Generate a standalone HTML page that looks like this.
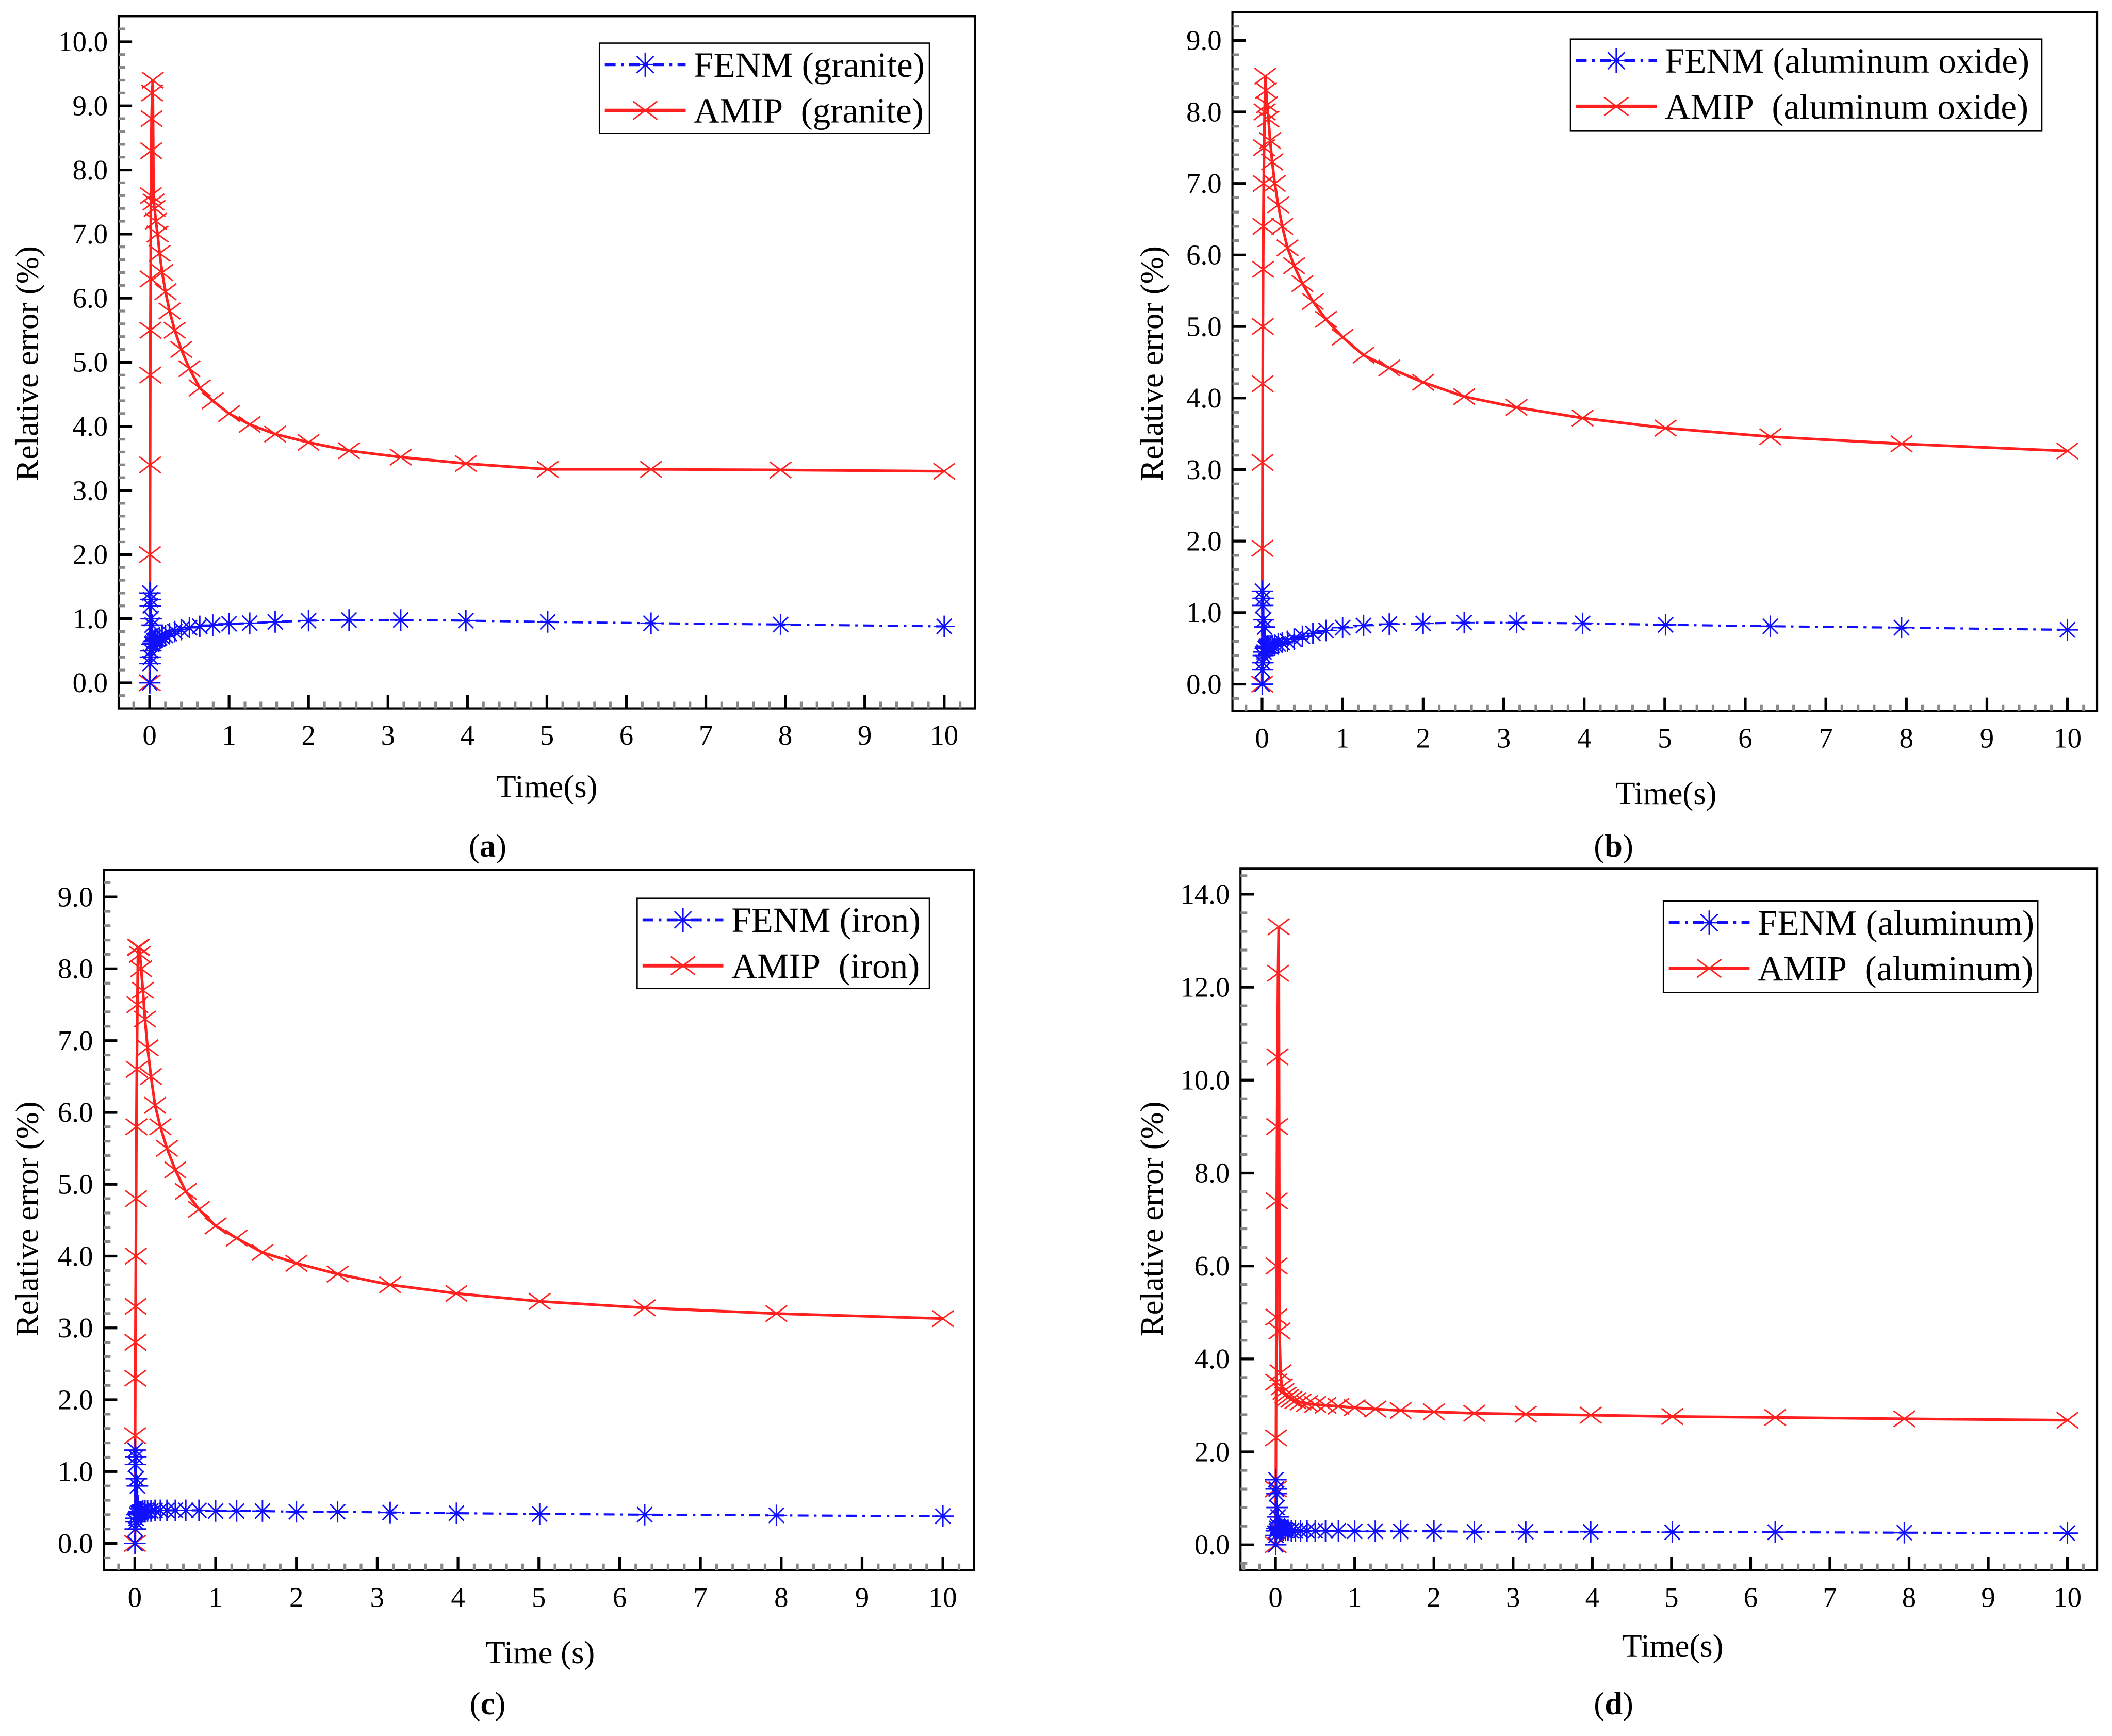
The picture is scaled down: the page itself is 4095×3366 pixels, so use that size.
<!DOCTYPE html>
<html><head><meta charset="utf-8"><style>
html,body{margin:0;padding:0;background:#fff;}
svg{display:block;}
text{font-family:"Liberation Serif",serif;fill:#000;}
</style></head><body>
<svg id="fig" width="4095" height="3366" viewBox="0 0 1568 1289" xmlns="http://www.w3.org/2000/svg"></svg>
<script>
// Shared time samples (s)
const times = [0.002,0.004,0.006,0.008,0.01,0.013,0.016,0.02,0.025,0.032,0.04,0.05,0.063,0.079,0.1,0.126,0.158,0.2,0.251,0.316,0.398,0.501,0.631,0.794,1,1.26,1.58,2,2.51,3.16,3.98,5.01,6.31,7.94,10];
const xTicks = [0,1,2,3,4,5,6,7,8,9,10];
// Panel (a) granite
const fenmA = [0,1.4,0.3,1.2,0.4,1.3,0.5,1.0,0.6,0.9,0.62,0.65,0.66,0.67,0.68,0.7,0.72,0.74,0.77,0.8,0.83,0.86,0.88,0.9,0.92,0.93,0.95,0.97,0.98,0.98,0.97,0.95,0.93,0.91,0.88];
const amipA = [0,2.0,3.4,4.8,5.5,6.3,7.6,8.3,8.8,9.2,9.4,7.5,7.4,7.2,7.0,6.7,6.4,6.1,5.8,5.5,5.2,4.9,4.6,4.4,4.2,4.03,3.88,3.75,3.62,3.52,3.42,3.33,3.33,3.32,3.3];
const yTicksA = [0,1,2,3,4,5,6,7,8,9,10];
// Panel (b) aluminum oxide
const fenmB = [0,1.3,0.2,1.1,0.3,1.2,0.4,0.9,0.45,0.8,0.5,0.52,0.53,0.53,0.53,0.54,0.55,0.56,0.58,0.6,0.63,0.67,0.71,0.75,0.79,0.82,0.84,0.85,0.86,0.86,0.85,0.83,0.81,0.79,0.76];
const amipB = [0,1.9,3.1,4.2,5.0,5.8,6.4,7.0,7.5,8.0,8.5,8.3,8.1,7.9,7.6,7.3,7.0,6.7,6.4,6.1,5.85,5.6,5.35,5.1,4.85,4.6,4.42,4.22,4.02,3.87,3.72,3.58,3.46,3.36,3.26];
const yTicksB = [0,1,2,3,4,5,6,7,8,9];
// Panel (c) iron
const fenmC = [0,1.3,0.2,1.1,0.3,1.2,0.35,0.9,0.4,0.8,0.42,0.43,0.44,0.44,0.45,0.45,0.45,0.45,0.46,0.46,0.46,0.46,0.46,0.46,0.45,0.45,0.45,0.44,0.44,0.43,0.42,0.41,0.4,0.39,0.38];
const amipC = [0,1.5,2.3,2.8,3.3,4.0,4.8,5.8,6.6,7.5,8.3,8.3,8.2,8.0,7.7,7.3,6.9,6.5,6.1,5.8,5.5,5.2,4.9,4.65,4.42,4.25,4.05,3.9,3.75,3.6,3.48,3.37,3.28,3.2,3.13];
const yTicksC = [0,1,2,3,4,5,6,7,8,9];
// Panel (d) aluminum
const fenmD = [0,1.4,0.2,1.2,0.3,1.1,0.35,0.8,0.4,0.6,0.38,0.36,0.34,0.33,0.32,0.31,0.31,0.3,0.3,0.3,0.3,0.3,0.3,0.3,0.29,0.29,0.29,0.29,0.28,0.28,0.28,0.27,0.27,0.26,0.25];
const amipD = [0,1.2,2.3,3.5,4.9,6.0,7.4,9.0,10.5,12.3,13.3,4.6,3.7,3.4,3.3,3.22,3.17,3.13,3.1,3.07,3.04,3.02,3.0,2.98,2.95,2.92,2.89,2.86,2.83,2.81,2.79,2.76,2.74,2.71,2.68];
const yTicksD = [0,2,4,6,8,10,12,14];

const NS='http://www.w3.org/2000/svg';
const fig=document.getElementById('fig');
function mk(tag,attrs,parent){const e=document.createElementNS(NS,tag);for(const k in attrs)e.setAttribute(k,attrs[k]);(parent||fig).appendChild(e);return e;}

const panels=[
 {id:'a',box:[88,12,724,526],x0:111,x10:701,y0:507,ymaxPix:31,ymax:10,yt:yTicksA,ystep:1,fenm:fenmA,amip:amipA,mat:'granite',leg:[445,32,690,99],xt:'Time(s)',xtx:406,xty:592,ytx:28,yty:270,cap:'a',capx:362,capy:636},
 {id:'b',box:[915,9,1557,528],x0:937,x10:1535,y0:508,ymaxPix:30,ymax:9,yt:yTicksB,ystep:1,fenm:fenmB,amip:amipB,mat:'aluminum oxide',leg:[1166,29,1516,97],xt:'Time(s)',xtx:1237,xty:597,ytx:863,yty:270,cap:'b',capx:1198,capy:636},
 {id:'c',box:[77,646,723,1166],x0:100,x10:700,y0:1146,ymaxPix:666,ymax:9,yt:yTicksC,ystep:1,fenm:fenmC,amip:amipC,mat:'iron',leg:[473,667,690,734],xt:'Time (s)',xtx:401,xty:1235,ytx:28,yty:905,cap:'c',capx:362,capy:1273},
 {id:'d',box:[921,645,1557,1166],x0:947,x10:1535,y0:1147,ymaxPix:664,ymax:14,yt:yTicksD,ystep:2,fenm:fenmD,amip:amipD,mat:'aluminum',leg:[1235,669,1513,737],xt:'Time(s)',xtx:1242,xty:1230,ytx:863,yty:905,cap:'d',capx:1198,capy:1273}
];

function starMarker(g,x,y,r,col){
  mk('path',{d:`M${x-r} ${y}H${x+r}M${x} ${y-r}V${y+r}M${x-r*0.7} ${y-r*0.7}L${x+r*0.7} ${y+r*0.7}M${x-r*0.7} ${y+r*0.7}L${x+r*0.7} ${y-r*0.7}`,stroke:col,'stroke-width':1.1,fill:'none'},g);
}
function xMarker(g,x,y,r,col){
  mk('path',{d:`M${x-r} ${y-r*0.75}L${x+r} ${y+r*0.75}M${x-r} ${y+r*0.75}L${x+r} ${y-r*0.75}`,stroke:col,'stroke-width':1.1,fill:'none'},g);
}

panels.forEach(p=>{
  const g=mk('g',{});
  
  
  const X=t=>p.x0+(p.x10-p.x0)*t/10;
  const Y=v=>p.y0-(p.y0-p.ymaxPix)*v/p.ymax;
  const [L,T,R,B]=p.box;
  const fr=mk('rect',{x:L,y:T,width:R-L,height:B-T,fill:'none',stroke:'#000','stroke-width':1.6},g);
  
  
  for(let k=-2;k<=52;k++){
    const t=k*0.2; const x=X(t); if(x<=L+1||x>=R-1) continue;
    const major=k%5===0;
    mk('line',{x1:x,y1:B,x2:x,y2:B-(major?10:5),stroke:major?'#000':'#888','stroke-width':2},g);
  }
  xTicks.forEach(t=>{
    const tx=mk('text',{x:X(t),y:B+27,'font-size':21,'text-anchor':'middle'},g);
    tx.textContent=String(t);
    
    
  });
  const yTop=p.yt[p.yt.length-1]+p.ystep;
  for(let k=-5;k<=(yTop/p.ystep)*5;k++){
    const v=k*p.ystep/5; const y=Y(v); if(y>=B-1||y<=T+1) continue;
    const major=k%5===0;
    mk('line',{x1:L,y1:y,x2:L+(major?10:5),y2:y,stroke:major?'#000':'#888','stroke-width':2},g);
  }
  p.yt.forEach(v=>{
    const ty=mk('text',{x:L-8,y:Y(v)+7,'font-size':21,'text-anchor':'end'},g);
    ty.textContent=v.toFixed(1);
    
    
  });
  const ptsA=times.map((t,i)=>X(t)+','+Y(p.amip[i])).join(' ');
  const la=mk('polyline',{points:ptsA,fill:'none',stroke:'#ff2020','stroke-width':2},g);
  
  
  const ga=mk('g',{},g);
  
  
  times.forEach((t,i)=>xMarker(ga,X(t),Y(p.amip[i]),8,'#ff2020'));
  const ptsF=times.map((t,i)=>X(t)+','+Y(p.fenm[i])).join(' ');
  const lf=mk('polyline',{points:ptsF,fill:'none',stroke:'#1010ff','stroke-width':1.6,'stroke-dasharray':'8 4 2 4'},g);
  
  
  const gf=mk('g',{},g);
  
  
  times.forEach((t,i)=>starMarker(gf,X(t),Y(p.fenm[i]),8,'#1010ff'));
  const [l1,t1,r1,b1]=p.leg;
  const lg=mk('g',{},g);
  
  
  mk('rect',{x:l1,y:t1,width:r1-l1,height:b1-t1,fill:'#fff',stroke:'#000','stroke-width':1},lg);
  const r1y=t1+16, r2y=t1+50;
  mk('line',{x1:l1+4,y1:r1y,x2:l1+64,y2:r1y,stroke:'#1010ff','stroke-width':2.2,'stroke-dasharray':'8 4 2 4'},lg);
  starMarker(lg,l1+34,r1y,9,'#1010ff');
  mk('line',{x1:l1+4,y1:r2y,x2:l1+64,y2:r2y,stroke:'#ff2020','stroke-width':2.6},lg);
  xMarker(lg,l1+34,r2y,9,'#ff2020');
  const e1=mk('text',{x:l1+70,y:r1y+9,'font-size':26.5},lg);
  e1.textContent='FENM ('+p.mat+')';
  
  
  const e2=mk('text',{x:l1+70,y:r2y+9,'font-size':26.5},lg);
  e2.textContent='AMIP\u00a0\u00a0('+p.mat+')';
  
  
  const xt=mk('text',{x:p.xtx,y:p.xty,'font-size':24,'text-anchor':'middle'},g);
  xt.textContent=p.xt;
  
  
  const yt=mk('text',{x:p.ytx,y:p.yty,'font-size':24,'text-anchor':'middle',transform:`rotate(-90 ${p.ytx} ${p.yty})`},g);
  yt.textContent='Relative error (%)';
  
  
  const cp=mk('text',{x:p.capx,y:p.capy,'font-size':24,'text-anchor':'middle'},g);
  cp.innerHTML='(<tspan font-weight="bold">'+p.cap+'</tspan>)';
  
  
});
</script>
</body></html>
